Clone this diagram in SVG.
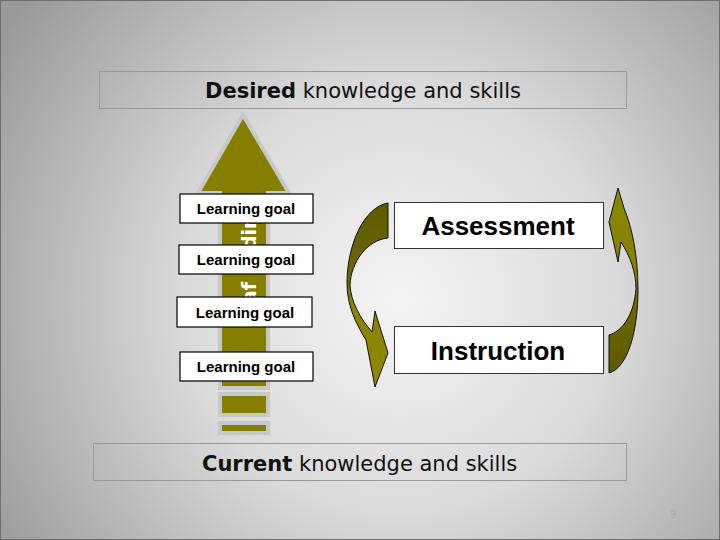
<svg xmlns="http://www.w3.org/2000/svg" width="720" height="540" viewBox="0 0 720 540">
<defs>
<radialGradient id="bg" cx="400" cy="300" r="480" gradientUnits="userSpaceOnUse">
<stop offset="0" stop-color="#f4f4f4"/>
<stop offset="0.45" stop-color="#dadada"/>
<stop offset="1" stop-color="#999999"/>
</radialGradient>
<linearGradient id="gl" x1="0" y1="200" x2="0" y2="385" gradientUnits="userSpaceOnUse">
<stop offset="0" stop-color="#5e5900"/>
<stop offset="0.45" stop-color="#6e6900"/>
<stop offset="0.55" stop-color="#8a8400"/>
<stop offset="1" stop-color="#8c8600"/>
</linearGradient>
<linearGradient id="gr" x1="0" y1="188" x2="0" y2="373" gradientUnits="userSpaceOnUse">
<stop offset="0" stop-color="#8c8600"/>
<stop offset="0.5" stop-color="#858000"/>
<stop offset="0.6" stop-color="#6e6900"/>
<stop offset="1" stop-color="#5e5900"/>
</linearGradient>
<style>
.band{fill:none;stroke:#9a9a9a;stroke-width:1}
.big{font-family:"DejaVu Sans",sans-serif;font-size:21px;fill:#111}
.lg rect{fill:#fff;stroke:#000;stroke-width:1.2}
.lg text{font-family:"Liberation Sans",Arial,sans-serif;font-weight:bold;font-size:15px;fill:#000;text-anchor:middle}
.box rect{fill:#fff;stroke:#333;stroke-width:1}
.box text{font-family:"Liberation Sans",Arial,sans-serif;font-weight:bold;font-size:26px;fill:#000;text-anchor:middle}
.olive{fill:#847f00;stroke:#c8c8c8;stroke-width:4}
.curv{stroke:#111;stroke-width:1}
.vt{font-family:"DejaVu Sans",sans-serif;font-weight:bold;font-size:19px;fill:#fff}
</style>
</defs>
<rect x="0" y="0" width="720" height="540" fill="url(#bg)"/>
<rect x="0.5" y="0.5" width="719" height="539" fill="none" stroke="#6e6e6e" stroke-width="1"/>

<g id="desired">
<rect class="band" x="99.5" y="71.5" width="527" height="37"/>
<text class="big" x="205" y="98"><tspan font-weight="bold">Desired</tspan> knowledge and skills</text>
</g>

<g id="progress-arrow">
<path class="olive" d="M243,115 L289,193 L268,193 L268,388 L220,388 L220,193 L198,193 Z"/>
<rect class="olive" x="220" y="394" width="48" height="21"/>
<rect class="olive" x="220" y="423" width="48" height="10"/>
<text class="vt" transform="translate(256,249) rotate(-90)">dir</text>
<text class="vt" transform="translate(256,303) rotate(-90)">af</text>
</g>

<g id="goal1" class="lg"><rect x="180" y="194" width="133" height="29"/><text x="246" y="214">Learning goal</text></g>
<g id="goal2" class="lg"><rect x="179" y="245" width="134" height="29"/><text x="246" y="265">Learning goal</text></g>
<g id="goal3" class="lg"><rect x="177" y="297" width="135" height="30"/><text x="245" y="318">Learning goal</text></g>
<g id="goal4" class="lg"><rect x="180" y="352" width="133" height="29"/><text x="246" y="372">Learning goal</text></g>

<g id="assessment" class="box"><rect x="394.5" y="202.5" width="209" height="46"/><text x="498" y="235">Assessment</text></g>
<g id="instruction" class="box"><rect x="394.5" y="326.5" width="209" height="47"/><text x="498" y="360">Instruction</text></g>

<g id="connectors">
<path class="curv" fill="url(#gl)" d="M388,203 C364,207 347,245 347,283 C347,305 355,322 366,340 L375,387 L388,353 L375,311 L372,332 C360,318 351,302 350,285 C351,262 367,240 388,238 Z"/>
<path class="curv" fill="url(#gr)" d="M609,373 C628,368 638,330 638,290 C638,255 632,228 624,208 L618,188 L609,222 L618,262 L621,242 C630,256 636,272 636,289 C634,314 623,331 609,335 Z"/>
</g>

<g id="current">
<rect class="band" x="93.5" y="443.5" width="533" height="37"/>
<text class="big" x="202" y="471"><tspan font-weight="bold">Current</tspan> knowledge and skills</text>
</g>

<text x="673" y="518" font-family="Liberation Sans, Arial, sans-serif" font-size="10" fill="#aaaaaa" text-anchor="middle">9</text>
</svg>
